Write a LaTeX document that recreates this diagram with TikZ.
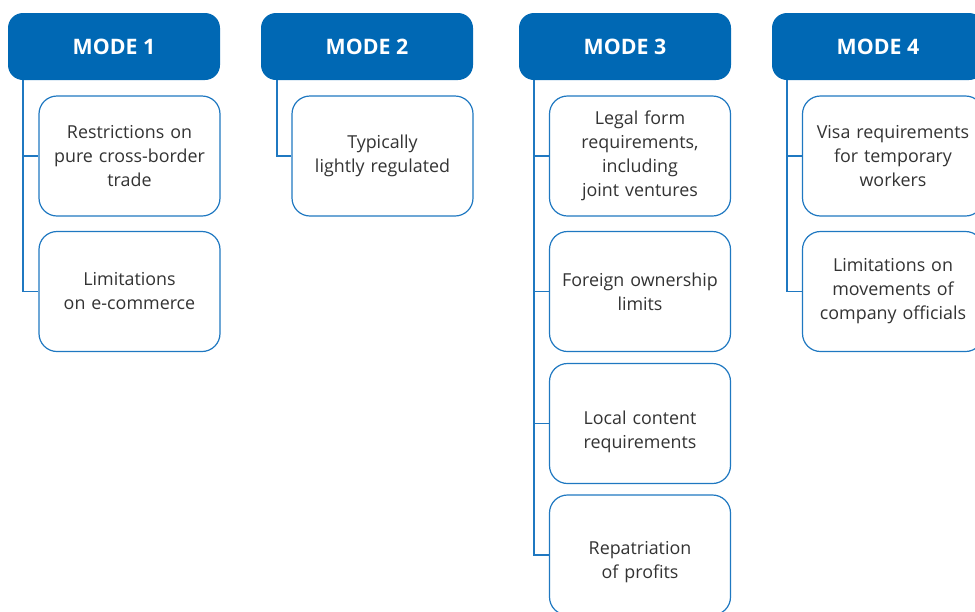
\documentclass[tikz,border=0pt]{standalone}
\usepackage{fontspec}
\setmainfont{Open Sans}
\definecolor{hdr}{HTML}{0068B4}
\definecolor{bd}{HTML}{1F78C1}
\definecolor{tx}{HTML}{333333}
\begin{document}
\begin{tikzpicture}[x=0.75pt,y=-0.75pt,
 header/.style={fill=hdr, rounded corners=11.25pt, minimum width=159pt, minimum height=50.25pt, text=white, font=\bfseries\fontsize{16}{18}\selectfont, inner sep=0pt},
 item/.style={draw=bd, line width=0.9pt, fill=white, rounded corners=13.5pt, minimum width=135.75pt, minimum height=90pt, text width=134pt, align=center, text=tx, font=\fontsize{13.4}{18}\selectfont, inner sep=0pt},
 itemtext/.style={text width=134pt, align=center, text=tx, font=\fontsize{13.4}{18}\selectfont, inner sep=0pt},
 link/.style={draw=bd, line width=0.9pt}]
\useasboundingbox (0,0) rectangle (975,611);
% headers
\node[header] (h1) at (114,46.5) {MODE 1};
\node[header] (h2) at (367,46.5) {MODE 2};
\node[header] (h3) at (625,46.5) {MODE 3};
\node[header] (h4) at (878,46.5) {MODE 4};
% mode 1
\node[item] (b11) at (129.5,156) {Restrictions on\\pure cross-border\\trade};
\node[item] (b12) at (129.5,291.5) {Limitations\\on e-commerce};
% mode 2
\node[item] (b21) at (382.5,156) {Typically\\lightly regulated};
% mode 3
\node[item] (b31) at (640,156) {Legal form\\requirements,\\including\\joint ventures};
\node[item] (b32) at (640,291.5) {Foreign ownership\\limits};
\node[item] (b33) at (640,423.5) {};
\node[itemtext] (b33t) at (640,432) {Local content\\requirements};
\node[item] (b34) at (640,555) {};
\node[itemtext] (b34t) at (640,562) {Repatriation\\of profits};
% mode 4
\node[item] (b41) at (893,156) {Visa requirements\\for temporary\\workers};
\node[item] (b42) at (893,291.5) {Limitations on\\movements of\\company officials};
% trunks
\coordinate (t1) at (23,80);
\coordinate (t2) at (277,80);
\coordinate (t3) at (534,80);
\coordinate (t4) at (787,80);
\draw[link] (t1) |- (b12.west);
\draw[link] (t1 |- b11.west) -- (b11.west);
\draw[link] (t2) |- (b21.west);
\draw[link] (t3) |- (b34.west);
\draw[link] (t3 |- b31.west) -- (b31.west);
\draw[link] (t3 |- b32.west) -- (b32.west);
\draw[link] (t3 |- b33.west) -- (b33.west);
\draw[link] (t4) |- (b42.west);
\draw[link] (t4 |- b41.west) -- (b41.west);
\end{tikzpicture}
\end{document}
